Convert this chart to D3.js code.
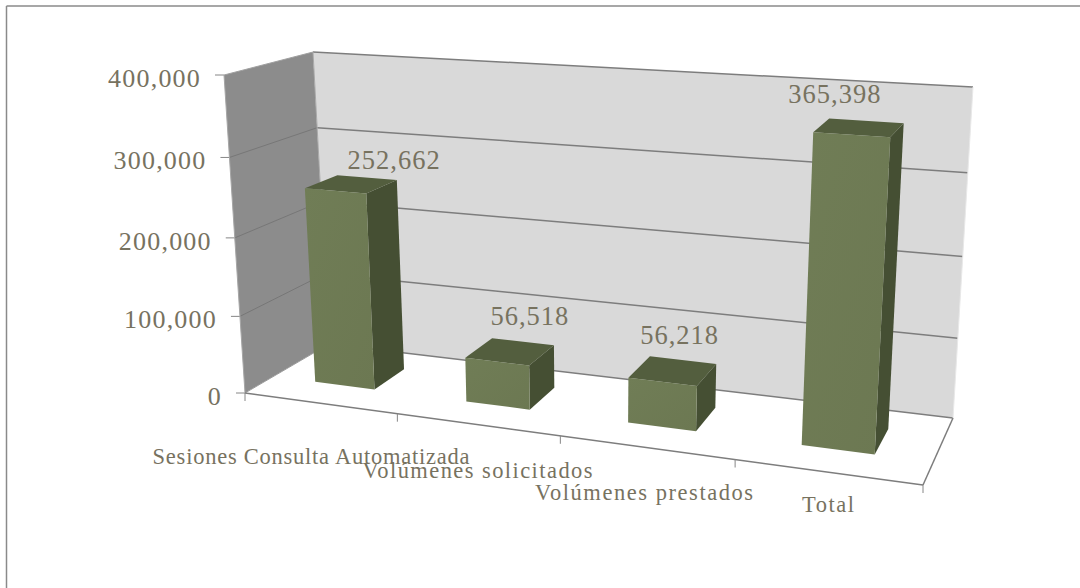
<!DOCTYPE html>
<html><head><meta charset="utf-8">
<script src="https://cdn.jsdelivr.net/npm/d3@7/dist/d3.min.js"></script>
<style>html,body{margin:0;padding:0;background:#fff}svg{display:block}
text{font-family:"Liberation Serif",serif;fill:#77725f}</style></head>
<body><svg id="c" width="1080" height="588"></svg>
<script>
const categories = ["Sesiones Consulta Automatizada","Volúmenes solicitados","Volúmenes prestados","Total"];
const values = [252662,56518,56218,365398];
const valueLabels = ["252,662","56,518","56,218","365,398"];
const axisTicks = [0,100000,200000,300000,400000];
const axisTickLabels = ["0","100,000","200,000","300,000","400,000"];

// layout only: box corners of the 3-D plot on the page
const box = {
  fbl:[245,393], fbr:[923,485], bbl:[329,344], bbr:[953,418],
  ftl:[224,75],  ftr:[944,121], btl:[313,52],  btr:[973,87]
};
const labelShift = [[43,-15],[20,-27],[7,-27],[-24,-25]];
const catShift = [[-7,61],[2,54],[0,53],[3,40]];
const catWidth = [317,230,218,52];
const perspective = t => t/(t+(1-t)*1.15);
const heightWarp = h => h/(h+(1-h)*1.05);

const lerp=(a,b,t)=>[a[0]+(b[0]-a[0])*t,a[1]+(b[1]-a[1])*t];
const yScale=d3.scaleLinear().domain([0,400000]).range([0,1]);
const xBand=d3.scaleBand().domain(categories).range([-0.003,0.997]).paddingInner(0.6).paddingOuter(0.3);
const zBand=d3.scaleLinear().domain([0,1]).range([0.34,0.73]);

// x in 0..1 (category axis), v in data units, z in 0..1 (depth)
function project(x,v,z){
  const u=perspective(x), h=heightWarp(yScale(v));
  const bf=lerp(box.fbl,box.fbr,u), bb=lerp(box.bbl,box.bbr,u);
  const tf=lerp(box.ftl,box.ftr,u), tb=lerp(box.btl,box.btr,u);
  return lerp(lerp(bf,bb,z),lerp(tf,tb,z),h);
}
const svg=d3.select("#c");
const poly=(pts,fill,stroke)=>svg.append("path").attr("d",d3.line()(pts)+"Z").attr("fill",fill).attr("stroke",stroke||"none");
const seg=(a,b,col,w)=>svg.append("line").attr("x1",a[0]).attr("y1",a[1]).attr("x2",b[0]).attr("y2",b[1]).attr("stroke",col).attr("stroke-width",w);

// chart frame: only top and left edges show
seg([6.5,6],[1080,6],"#8a8a8a",1.5);
seg([6.5,6],[6.5,588],"#8a8a8a",1.5);

// walls
poly([project(0,0,0),project(0,400000,0),project(0,400000,1),project(0,0,1)],"#8c8c8c");
poly([project(0,0,1),project(0,400000,1),project(1,400000,1),project(1,0,1)],"#d9d9d9");
// floor
poly([project(0,0,0),project(1,0,0),project(1,0,1),project(0,0,1)],"#fff");

// gridlines
axisTicks.forEach(t=>{
  const a=project(0,t,0),b=project(0,t,1),c=project(1,t,1);
  if(t>0) seg(a,b,t==400000?"#a0a0a0":"#777",1);
  seg(b,c,"#7d7d7d",1.5);
  seg([a[0]-9,a[1]],a,"#868686",1);
});
seg(project(0,0,0),project(0,400000,0),"#a6a6a6",1);
seg(project(0,400000,1),project(0,0,1),"#a8a8a8",1);
seg(project(1,400000,1),project(1,0,1),"#e8e8e8",1);
// floor edges
seg(project(0,0,0),project(0,0,1),"#9a9a9a",1);
seg(project(0,0,0),project(1,0,0),"#7d7d7d",1.5);
seg(project(1,0,0),project(1,0,1),"#7d7d7d",1.5);
d3.range(categories.length+1).map(i=>i/categories.length).forEach(t=>{
  const a=project(t,0,0); seg(a,[a[0],a[1]+8],"#868686",1);
});

// tick labels
axisTicks.forEach((t,i)=>{
  const a=project(0,t,0);
  svg.append("text").attr("x",a[0]-23).attr("y",a[1]+12).attr("text-anchor","end")
    .attr("font-size",26).attr("letter-spacing",1.2).text(axisTickLabels[i]);
});

// bars
const grad=svg.append("defs").append("linearGradient").attr("id","fg").attr("x1",0).attr("y1",0).attr("x2",1).attr("y2",1);
grad.append("stop").attr("offset",0).attr("stop-color","#707d56");
grad.append("stop").attr("offset",1).attr("stop-color","#6c7852");

categories.forEach((c,i)=>{
  const x0=xBand(c), x1=x0+xBand.bandwidth(), z0=zBand(0), z1=zBand(1), v=values[i];
  poly([project(x1,0,z0),project(x1,v,z0),project(x1,v,z1),project(x1,0,z1)],"#454f33");
  poly([project(x0,v,z0),project(x1,v,z0),project(x1,v,z1),project(x0,v,z1)],"#535e3e");
  poly([project(x0,0,z0),project(x0,v,z0),project(x1,v,z0),project(x1,0,z0)],"url(#fg)");
  const p=project((x0+x1)/2,v,(z0+z1)/2);
  svg.append("text").attr("x",p[0]+labelShift[i][0]).attr("y",p[1]+labelShift[i][1])
    .attr("text-anchor","middle").attr("font-size",26.5).attr("letter-spacing",1).text(valueLabels[i]);
  const f=project((x0+x1)/2,0,0);
  svg.append("text").attr("x",f[0]+catShift[i][0]).attr("y",f[1]+catShift[i][1]).attr("text-anchor","middle")
    .attr("font-size",22.5).attr("textLength",catWidth[i]).attr("lengthAdjust","spacing").text(c);
});
</script></body></html>
